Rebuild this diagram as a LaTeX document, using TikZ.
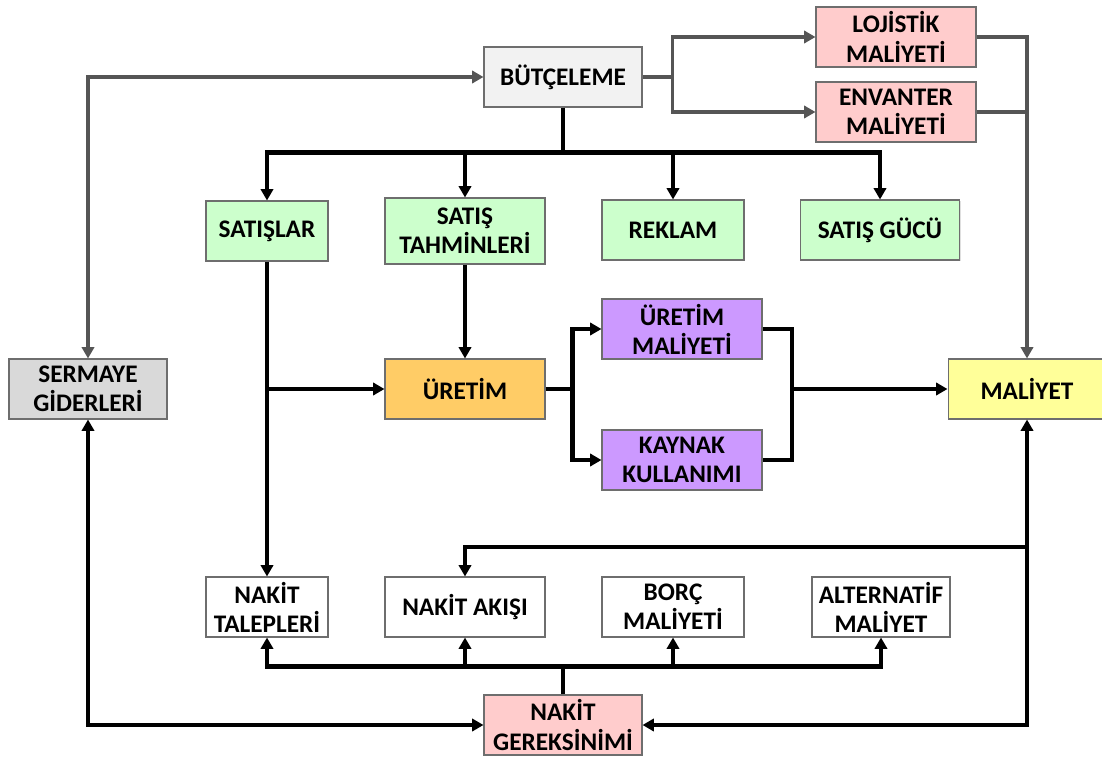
\documentclass[tikz,border=0pt]{standalone}
\usepackage{fontspec}
\setmainfont{Carlito}
\usetikzlibrary{arrows.meta,shadows}

\definecolor{boxline}{HTML}{6E6E6E}
\definecolor{linegrey}{HTML}{555555}
\definecolor{budgetfill}{HTML}{F2F2F2}
\definecolor{pinkfill}{HTML}{FFCCCC}
\definecolor{greenfill}{HTML}{CCFFCC}
\definecolor{capfill}{HTML}{D9D9D9}
\definecolor{prodfill}{HTML}{FFCC66}
\definecolor{purplefill}{HTML}{CC99FF}
\definecolor{costfill}{HTML}{FFFF99}

\begin{document}
\begin{tikzpicture}[
        x=0.02cm, y=-0.02cm,
        >={Triangle[length=6.5pt,width=7pt]},
        every node/.style={align=center, font=\bfseries\fontsize{14.4}{16.6}\selectfont},
        box/.style={draw=boxline, line width=0.6pt, inner sep=0pt, minimum width=3.2cm, minimum height=1.2cm,
            drop shadow={shadow xshift=0.8pt, shadow yshift=-0.8pt, opacity=0.25}},
        blackedge/.style={line width=2.4pt, draw=black, line join=miter},
        greyedge/.style={line width=2.2pt, draw=linegrey, line join=miter}
    ]
    \useasboundingbox (0,0) rectangle (1102,757);

    % Nodes
    \node (butce)[box, fill=budgetfill, minimum width=3.16cm] at (563,77) {BÜTÇELEME};
    \node (lojis)[box, fill=pinkfill] at (896,37) {LOJİSTİK\\MALİYETİ};
    \node (envan)[box, fill=pinkfill] at (896,112) {ENVANTER\\MALİYETİ};

    \node (satis)[box, fill=greenfill, minimum width=2.44cm] at (267,231) {SATIŞLAR};
    \node (tahmin)[box, fill=greenfill, minimum height=1.32cm] at (465,231) {SATIŞ\\TAHMİNLERİ};
    \node (reklam)[box, fill=greenfill, minimum width=2.84cm] at (673,230) {REKLAM};
    \node (gucu)[box, fill=greenfill, minimum width=3.18cm] at (880,230) {SATIŞ GÜCÜ};

    \node (serm)[box, fill=capfill, minimum width=3.16cm] at (88,389) {SERMAYE\\GİDERLERİ};
    \node (uretim)[box, fill=prodfill] at (465,389) {ÜRETİM};
    \node (umal)[box, fill=purplefill] at (682,329) {ÜRETİM\\MALİYETİ};
    \node (kaynak)[box, fill=purplefill] at (682,460) {KAYNAK\\KULLANIMI};
    \node (mal)[box, fill=costfill, minimum width=3.16cm] at (1027,389) {MALİYET};

    \node (talep)[box, fill=white, minimum width=2.44cm] at (267,607) {NAKİT\\TALEPLERİ};
    \node (akis)[box, fill=white] at (465,607) {NAKİT AKIŞI};
    \node (borc)[box, fill=white, minimum width=2.84cm] at (673,607) {BORÇ\\MALİYETİ};
    \node (alter)[box, fill=white, minimum width=2.76cm] at (881,607) {ALTERNATİF\\MALİYET};
    \node (gerek)[box, fill=pinkfill, minimum width=3.16cm] at (563,725) {NAKİT\\GEREKSİNİMİ};

    \coordinate (mjoin) at (792,389);
    \coordinate (cflow) at (1027,547);

    % Edges
    \draw[greyedge, <->] (serm.north) |- (butce.west);
    \draw[greyedge, ->] (butce.east) -- ++(30,0) coordinate (bfork) |- (lojis.west);
    \draw[greyedge, ->] (bfork) |- (envan.west);
    \draw[greyedge] (envan.east) -- (envan.east -| mal.north);
    \draw[greyedge, ->] (lojis.east) -| (mal.north);

    \draw[blackedge] (butce.south) -- ++(0,45) coordinate (bsplit);
    \draw[blackedge, <->] (satis.north) |- (bsplit) -| (gucu.north);
    \foreach \n in {tahmin,reklam}
        \draw[blackedge, ->] (\n.north |- bsplit) -- (\n.north);

    \draw[blackedge, ->] (satis.south) -- (talep.north);
    \draw[blackedge, ->] (satis.south |- uretim.west) -- (uretim.west);
    \draw[blackedge, ->] (tahmin) -- (uretim);

    \draw[blackedge] (uretim.east) -- ++(27,0) coordinate (usplit);
    \draw[blackedge, <->] (umal.west) -| (usplit) |- (kaynak.west);
    \draw[blackedge] (umal.east) -| (mjoin) |- (kaynak.east);
    \draw[blackedge, ->] (mjoin) -- (mal.west);

    \draw[blackedge] (gerek.north) -- ++(0,-28) coordinate (gsplit);
    \draw[blackedge, <->] (talep.south) |- (gsplit) -| (alter.south);
    \foreach \n in {akis,borc}
        \draw[blackedge, ->] (\n.south |- gsplit) -- (\n.south);

    \draw[blackedge, <->] (serm.south) |- (gerek.west);
    \draw[blackedge, <->] (mal.south) |- (gerek.east);
    \draw[blackedge, ->] (cflow) -| (akis.north);

\end{tikzpicture}
\end{document}
